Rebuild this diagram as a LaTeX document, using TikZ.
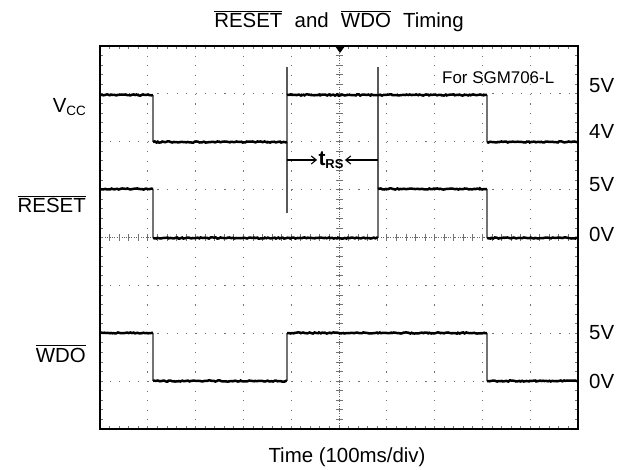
\documentclass[tikz,border=0pt]{standalone}
\usepackage{fontspec}
\setmainfont{Liberation Sans}
\usetikzlibrary{decorations.pathmorphing,arrows.meta}
\newcommand\ovl[1]{\leavevmode\vbox{\hrule height 0.8bp\kern 2.2bp\hbox{#1}}}
\begin{document}
\begin{tikzpicture}[x=1bp,y=-1bp,
  lbl/.style={inner sep=0pt, font=\fontsize{20.5}{24}\selectfont},
  frame/.style={line width=1.2bp, black},
  griddot/.style={black!55, line width=1bp, dash pattern=on 1.2bp off 8.37bp},
  centerdot/.style={black!60, line width=0.9bp, dash pattern=on 0.9bp off 1.5bp},
  tickmark/.style={black!55, line width=0.8bp},
  trace/.style={black, line width=2.5bp, decorate,
     decoration={random steps, segment length=1.6bp, amplitude=0.6bp}},
  edge/.style={black!55, line width=1.3bp},
  marker/.style={black!65, line width=1.1bp},
  barb/.style={-{Straight Barb[length=5bp,width=8bp]}, line width=1.1bp, black}
]
\pgfmathsetseed{7}
\useasboundingbox (0,0) rectangle (627,470);
% graticule
\foreach \i in {1,...,9}{
  \draw[griddot] ({100+47.8*\i},46) -- ({100+47.8*\i},429);}
\foreach \j in {1,...,7}{
  \draw[griddot] (100,{46+47.875*\j}) -- (578,{46+47.875*\j});}
\draw[centerdot] (339,46) -- (339,429);
\draw[centerdot] (100,237.5) -- (578,237.5);
\foreach \k in {1,...,49}{
  \draw[tickmark] ({100+9.56*\k},46) -- ++(0,3);
  \draw[tickmark] ({100+9.56*\k},429) -- ++(0,-3);
  \draw[tickmark] ({100+9.56*\k},234) -- ++(0,7);}
\foreach \k in {1,...,39}{
  \draw[tickmark] (100,{46+9.575*\k}) -- ++(3,0);
  \draw[tickmark] (578,{46+9.575*\k}) -- ++(-3,0);
  \draw[tickmark] (335.5,{46+9.575*\k}) -- ++(7,0);}
\draw[frame] (100,46) rectangle (578,429);
\fill (335,46) -- (345,46) -- (340,53) -- cycle;
% marker lines
\draw[marker] (287,67) -- (287,213);
\draw[marker] (378,67) -- (378,189);
% Vcc trace
\draw[edge] (153,95) -- (153,142) (287,142) -- (287,95) (487,95) -- (487,142);
\draw[trace] (100,95) -- (153,95);
\draw[trace] (153,142) -- (287,142);
\draw[trace] (287,95) -- (487,95);
\draw[trace] (487,142) -- (578,142);
% RESET trace
\draw[edge] (153,189) -- (153,238) (378,238) -- (378,189) (487,189) -- (487,238);
\draw[trace] (100,189) -- (153,189);
\draw[trace] (153,238) -- (378,238);
\draw[trace] (378,189) -- (487,189);
\draw[trace] (487,238) -- (578,238);
% WDO trace
\draw[edge] (153,333) -- (153,381) (287,381) -- (287,333) (487,333) -- (487,381);
\draw[trace] (100,333) -- (153,333);
\draw[trace] (153,381) -- (287,381);
\draw[trace] (287,333) -- (487,333);
\draw[trace] (487,381) -- (578,381);
% tRS
\coordinate (m1) at (287,160);
\coordinate (m2) at (378,160);
\node[inner sep=0pt, inner xsep=1.2bp, anchor=center] (trs) at (331,160)
  {\fontsize{21}{24}\selectfont\bfseries t\raisebox{-3.5bp}{\fontsize{13}{14}\selectfont RS}};
\draw[barb] (m1) -- (trs.west);
\draw[barb] (m2) -- (trs.east);
% labels
\node[lbl, anchor=base] (title) at (339,28)
  {\ovl{RESET}\hspace{0.6em}and\hspace{0.6em}\ovl{WDO}\hspace{0.6em}Timing};
\node[lbl, anchor=base] (xlab) at (347,462) {Time (100ms/div)};
\node[lbl, anchor=base east] (vcc) at (86,113) {V\raisebox{-2.5bp}{\fontsize{13.5}{15}\selectfont CC}};
\node[lbl, anchor=base east] (reset) at (86,213) {\ovl{RESET}};
\node[lbl, anchor=base east] (wdo) at (86,362) {\ovl{WDO}};
\node[inner sep=0pt, anchor=base west, font=\fontsize{17}{20}\selectfont] (part) at (442,84) {For SGM706-L};
\node[lbl, anchor=base west] (v1) at (589,93) {5V};
\node[lbl, anchor=base west] (v2) at (589,139) {4V};
\node[lbl, anchor=base west] (v3) at (589,192) {5V};
\node[lbl, anchor=base west] (v4) at (589,242) {0V};
\node[lbl, anchor=base west] (v5) at (589,339) {5V};
\node[lbl, anchor=base west] (v6) at (589,388) {0V};
\end{tikzpicture}
\end{document}
